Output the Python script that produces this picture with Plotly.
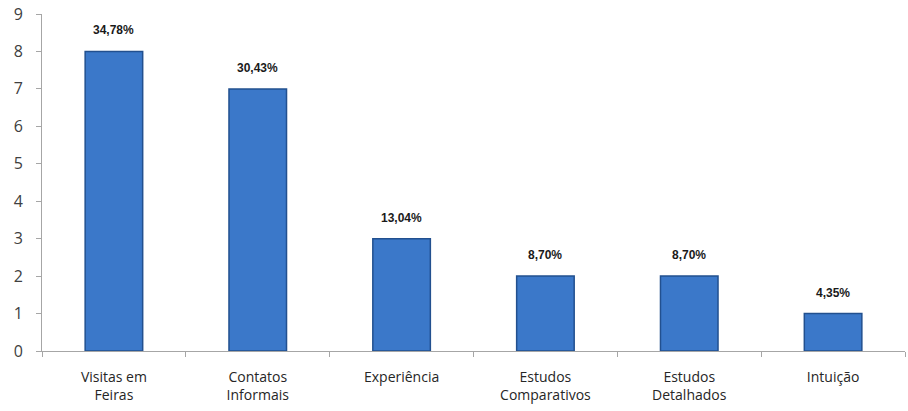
import plotly.graph_objects as go

categories = ["Visitas em<br>Feiras", "Contatos<br>Informais", "Experiência",
              "Estudos<br>Comparativos", "Estudos<br>Detalhados", "Intuição"]
values = [8, 7, 3, 2, 2, 1]
pct_labels = ["34,78%", "30,43%", "13,04%", "8,70%", "8,70%", "4,35%"]

fig = go.Figure()
fig.add_trace(go.Bar(
    x=categories, y=values, width=0.40,
    marker=dict(color="#3b78c9", line=dict(color="#22508f", width=1.5)),
    hoverinfo="skip",
))

for c, v, t in zip(categories, values, pct_labels):
    fig.add_annotation(x=c, y=v, text="<b>" + t + "</b>", showarrow=False,
                       yanchor="bottom", yshift=12,
                       font=dict(family="Liberation Sans", size=12, color="#1a1a1a"))

fig.update_layout(
    width=908, height=411,
    margin=dict(l=42, r=3, t=14, b=60),
    plot_bgcolor="white", paper_bgcolor="white",
    showlegend=False,
    xaxis=dict(showline=True, linecolor="#a6a6a6", linewidth=1,
               ticks="outside", tickson="boundaries", ticklen=5, tickcolor="#a6a6a6",
               tickfont=dict(family="Open Sans", size=14, color="#262626"),
               ticklabelstandoff=13, showgrid=False),
    yaxis=dict(range=[0, 9], dtick=1, showline=True, linecolor="#a6a6a6", linewidth=1,
               ticks="outside", ticklen=5, tickcolor="#a6a6a6",
               tickfont=dict(family="Open Sans", size=16, color="#404040"),
               ticklabelstandoff=10, showgrid=False, zeroline=False),
)

fig.write_html("out.html", config={"displayModeBar": False},
               post_script="document.body.style.margin='0px';")
